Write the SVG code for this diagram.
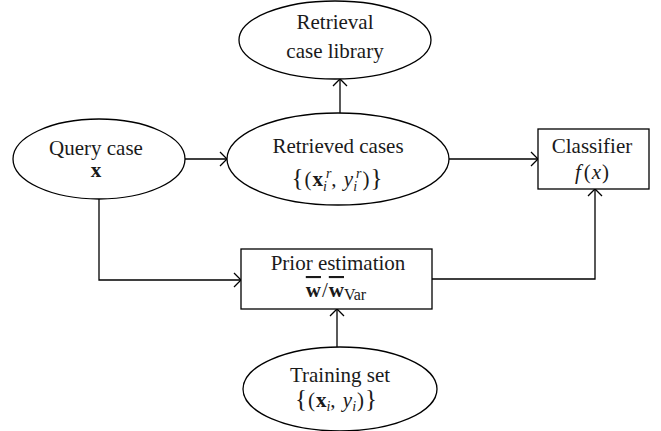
<svg xmlns="http://www.w3.org/2000/svg" width="661" height="431" viewBox="0 0 661 431">
<style>
.n{fill:#fff;stroke:#000;stroke-width:1.3}
.t{font-family:"Liberation Serif","Times New Roman",serif;font-size:21px;fill:#1a1a1a;text-anchor:middle}
.c{fill:none;stroke:#000;stroke-width:1.3}
.b{font-weight:bold}
.i{font-style:italic}
.s{font-size:14px}
.br{font-size:25px}
</style>
<defs>
<marker id="a" markerUnits="userSpaceOnUse" markerWidth="16" markerHeight="16" refX="0" refY="0" viewBox="-9 -8 10 16" orient="auto" overflow="visible">
<path d="M-7,-7 L0,0 L-7,7" fill="none" stroke="#000" stroke-width="1.3"/>
</marker>
</defs>
<rect width="661" height="431" fill="#fff"/>
<g id="connectors">
<path class="c" d="M185,159 H227" marker-end="url(#a)"/>
<path class="c" d="M340,113 V79" marker-end="url(#a)"/>
<path class="c" d="M449,159 H538" marker-end="url(#a)"/>
<path class="c" d="M99,199 V280 H241" marker-end="url(#a)"/>
<path class="c" d="M432,279 H595 V189" marker-end="url(#a)"/>
<path class="c" d="M337,347 V309" marker-end="url(#a)"/>
</g>
<g id="library">
<ellipse class="n" cx="335" cy="40" rx="96" ry="39"/>
<text class="t" x="335" y="29">Retrieval</text>
<text class="t" x="335" y="58">case library</text>
</g>
<g id="retrieved">
<ellipse class="n" cx="338" cy="159" rx="111" ry="46"/>
<text class="t" x="337" y="186"><tspan class="br">{</tspan><tspan dx="1">(</tspan><tspan class="b" dx="1">x</tspan><tspan class="i s" dy="5">i</tspan><tspan class="i s" dx="-1" dy="-13">r</tspan><tspan dy="8">, </tspan><tspan class="i" dx="2">y</tspan><tspan class="i s" dy="5">i</tspan><tspan class="i s" dx="-1" dy="-13">r</tspan><tspan dy="8" dx="1">)</tspan><tspan class="br" dx="1">}</tspan></text>
<text class="t" x="338" y="153">Retrieved cases</text>
</g>
<g id="query">
<ellipse class="n" cx="99" cy="159" rx="86" ry="40"/>
<text class="t" x="96" y="155">Query case</text>
<text class="t b" x="96" y="177">x</text>
</g>
<g id="classifier">
<rect class="n" x="538" y="129" width="111" height="60"/>
<text class="t" x="592" y="153">Classifier</text>
<text class="t" x="592" y="179"><tspan class="i">f</tspan><tspan dx="3">(</tspan><tspan class="i" dx="1">x</tspan><tspan dx="1">)</tspan></text>
</g>
<g id="prior">
<rect class="n" x="241" y="249" width="191" height="60"/>
<text class="t" x="338" y="270">Prior estimation</text>
<text class="t" x="336" y="297"><tspan class="b" text-decoration="overline">w</tspan><tspan dx="1">/</tspan><tspan class="b" dx="1" text-decoration="overline">w</tspan><tspan class="s" dy="3" style="font-size:16px">Var</tspan></text>
</g>
<g id="training">
<ellipse class="n" cx="340" cy="389" rx="97" ry="42"/>
<text class="t" x="340" y="382">Training set</text>
<text class="t" x="336" y="407"><tspan class="br">{</tspan><tspan dx="1">(</tspan><tspan class="b" dx="1">x</tspan><tspan class="i s" dy="4">i</tspan><tspan dy="-4">, </tspan><tspan class="i" dx="2">y</tspan><tspan class="i s" dy="4">i</tspan><tspan dy="-4" dx="1">)</tspan><tspan class="br" dx="1">}</tspan></text>
</g>
</svg>
